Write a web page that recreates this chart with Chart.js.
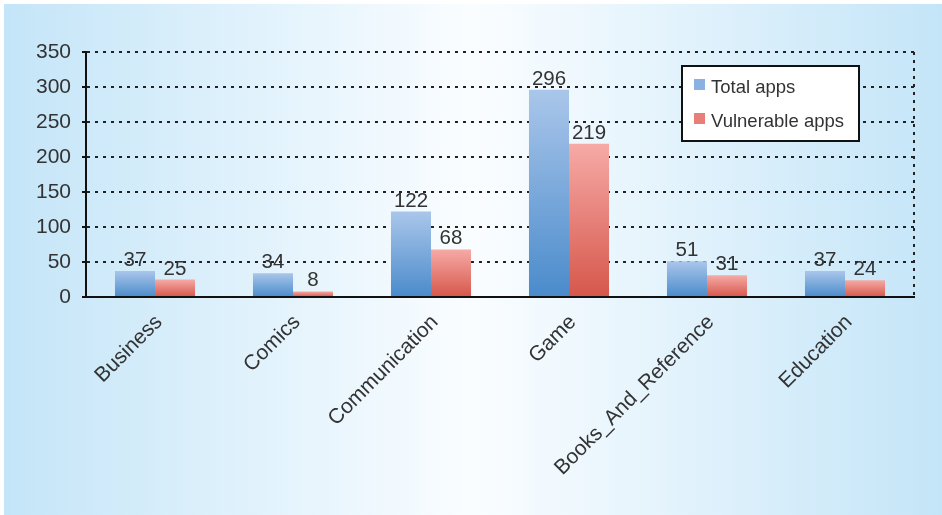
<!DOCTYPE html>
<html>
<head>
<meta charset="utf-8">
<script src="https://cdn.jsdelivr.net/npm/chart.js@4.4.0/dist/chart.umd.min.js"></script>
<style>
  body { margin: 0; background: #fff; }
  #wrap { width: 942px; height: 515px; }
</style>
</head>
<body>
<div id="wrap"><canvas id="chart" width="942" height="515"></canvas></div>
<script>
const categories = ['Business', 'Comics', 'Communication', 'Game', 'Books_And_Reference', 'Education'];
const totalApps = [37, 34, 122, 296, 51, 37];
const vulnerableApps = [25, 8, 68, 219, 31, 24];
const seriesNames = ['Total apps', 'Vulnerable apps'];

const FONT = "'Liberation Sans', Arial, Helvetica, sans-serif";
const TEXT = '#333';

// vertical gradient per bar, light at the top, dark at the base
function barFill(top, bottom, flat) {
    return function (ctx) {
        const chart = ctx.chart;
        if (!chart.chartArea || ctx.raw === undefined) return flat;
        const y = chart.scales.y;
        const y0 = y.getPixelForValue(ctx.raw);
        const y1 = y.getPixelForValue(0);
        const g = chart.ctx.createLinearGradient(0, y0, 0, y1);
        g.addColorStop(0, top);
        g.addColorStop(1, bottom);
        return g;
    };
}

const background = {
    id: 'background',
    beforeDraw(chart) {
        const c = chart.ctx;
        c.save();
        c.fillStyle = '#fff';
        c.fillRect(0, 0, chart.width, chart.height);
        const g = c.createLinearGradient(4, 0, chart.width, 0);
        g.addColorStop(0, '#c4e5f8');
        g.addColorStop(0.5, '#fafdff');
        g.addColorStop(1, '#c4e5f8');
        c.fillStyle = g;
        c.fillRect(4, 4, chart.width - 4, chart.height - 4);
        c.restore();
    }
};

const extras = {
    id: 'extras',
    beforeDatasetsDraw(chart) {
        // dotted right edge of the plot
        const a = chart.chartArea;
        const c = chart.ctx;
        c.save();
        c.strokeStyle = '#222';
        c.lineWidth = 2;
        c.setLineDash([3, 5]);
        c.beginPath();
        c.moveTo(a.right, a.top);
        c.lineTo(a.right, a.bottom);
        c.stroke();
        c.restore();
    },
    afterDraw(chart) {
        const c = chart.ctx;
        c.save();
        // value labels
        c.font = '20.5px ' + FONT;
        c.fillStyle = TEXT;
        c.textAlign = 'center';
        c.textBaseline = 'alphabetic';
        chart.data.datasets.forEach((ds, i) => {
            chart.getDatasetMeta(i).data.forEach((el, j) => {
                c.fillText(String(ds.data[j]), el.x, el.y - 5);
            });
        });
        // legend box
        c.fillStyle = '#fff';
        c.fillRect(682, 66, 177, 75);
        c.strokeStyle = '#111';
        c.lineWidth = 2;
        c.strokeRect(682, 66, 177, 75);
        const swatch = ['#8bb1e0', '#e57f77'];
        const rows = [88, 122];
        c.font = '18.5px ' + FONT;
        c.textAlign = 'left';
        c.textBaseline = 'middle';
        seriesNames.forEach((name, i) => {
            c.fillStyle = swatch[i];
            c.fillRect(694, rows[i] - 9, 11, 11);
            c.fillStyle = TEXT;
            c.fillText(name, 711, rows[i]);
        });
        c.restore();
    }
};

new Chart(document.getElementById('chart'), {
    type: 'bar',
    data: {
        labels: categories,
        datasets: [{
            label: seriesNames[0],
            data: totalApps,
            backgroundColor: barFill('#aac6ea', '#4a8bcb', '#8bb1e0')
        }, {
            label: seriesNames[1],
            data: vulnerableApps,
            backgroundColor: barFill('#f6aaa6', '#d6574b', '#e57f77')
        }]
    },
    options: {
        responsive: false,
        animation: false,
        events: [],
        categoryPercentage: 0.58,
        barPercentage: 1,
        layout: { padding: { top: 52, right: 28, left: 0, bottom: 0 } },
        plugins: {
            legend: { display: false },
            tooltip: { enabled: false }
        },
        scales: {
            x: {
                grid: { display: false, drawTicks: false },
                border: { display: true, color: '#111', width: 2 },
                ticks: {
                    color: TEXT,
                    font: { family: FONT, size: 21 },
                    minRotation: 45,
                    maxRotation: 45,
                    padding: 13,
                    labelOffset: 4,
                    autoSkip: false
                },
                afterFit(scale) { scale.height = 218; }
            },
            y: {
                min: 0,
                max: 350,
                grid: {
                    color: ctx => ctx.tick && ctx.tick.value === 0 ? 'rgba(0,0,0,0)' : '#222',
                    lineWidth: 2,
                    drawTicks: true,
                    tickLength: 4,
                    tickColor: '#111',
                    tickWidth: 2
                },
                border: { display: true, color: '#111', width: 2, dash: [3, 5] },
                ticks: {
                    stepSize: 50,
                    color: TEXT,
                    font: { family: FONT, size: 21 },
                    padding: 11
                },
                afterFit(scale) { scale.width = 86; }
            }
        }
    },
    plugins: [background, extras]
});
</script>
</body>
</html>
